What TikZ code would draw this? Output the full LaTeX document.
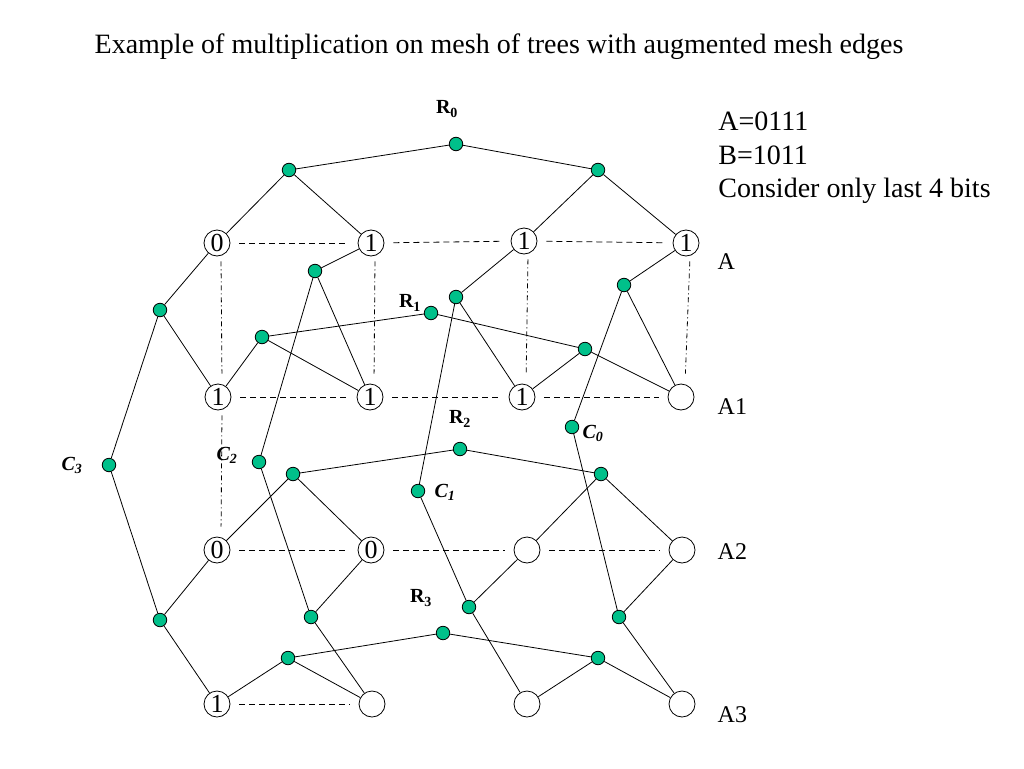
\documentclass[tikz,border=0pt]{standalone}
\usepackage{fontspec}
\setmainfont{Liberation Serif}
\definecolor{dotgreen}{RGB}{0,192,138}
\begin{document}
\begin{tikzpicture}[x=1pt,y=-1pt,line width=0.8pt,
      bit/.style={circle,draw,fill=white,minimum size=26pt,inner sep=0pt,font=\fontsize{26}{26}\selectfont},
      pe/.style={circle,draw,fill=dotgreen,minimum size=13.5pt,inner sep=0pt},
      meshline/.style={dash pattern=on 6pt off 4pt,shorten <=9pt,shorten >=9pt},
      colline/.style={dash pattern=on 5pt off 3pt on 1pt off 3pt,shorten <=5pt,shorten >=10pt},
      rlabel/.style={font=\fontsize{20}{20}\selectfont\bfseries},
      clabel/.style={font=\fontsize{20}{20}\selectfont\bfseries\itshape},
      mytext/.style={font=\fontsize{28}{33.5}\selectfont,align=left}]
    \useasboundingbox (0,0) rectangle (1024,768);
    \node[mytext] at (499,47) (title) {Example of multiplication on mesh of trees with augmented mesh edges};
    \node[mytext,anchor=west,inner sep=0pt] at (718,158) (info) {A=0111\\B=1011\\Consider only last 4 bits};
    % mesh of bits
    \node[bit] at (217,243) (m00) {0};
    \node[bit] at (371,243) (m01) {1};
    \node[bit] at (524,241) (m02) {1};
    \node[bit] at (686,243) (m03) {1};
    \node[bit] at (218,397) (m10) {1};
    \node[bit] at (370,397) (m11) {1};
    \node[bit] at (522,397) (m12) {1};
    \node[bit] at (681,397) (m13) {};
    \node[bit] at (217,550) (m20) {0};
    \node[bit] at (371,550) (m21) {0};
    \node[bit] at (527,550) (m22) {};
    \node[bit] at (682,550) (m23) {};
    \node[bit] at (217,704) (m30) {1};
    \node[bit] at (372,704) (m31) {};
    \node[bit] at (527,704) (m32) {};
    \node[bit] at (682,704) (m33) {};
    \node[mytext,font=\fontsize{24}{24}\selectfont,anchor=west] at (714,262) (rowA) {A};
    \node[mytext,font=\fontsize{24}{24}\selectfont,anchor=west] at (714,407) (rowA1) {A1};
    \node[mytext,font=\fontsize{24}{24}\selectfont,anchor=west] at (714,552) (rowA2) {A2};
    \node[mytext,font=\fontsize{24}{24}\selectfont,anchor=west] at (714,715) (rowA3) {A3};
    % augmented mesh edges
    \draw[meshline] (m00)--(m01); \draw[meshline] (m01)--(m02); \draw[meshline] (m02)--(m03);
    \draw[meshline] (m10)--(m11); \draw[meshline] (m11)--(m12); \draw[meshline] (m12)--(m13);
    \draw[meshline] (m20)--(m21); \draw[meshline] (m21)--(m22); \draw[meshline] (m22)--(m23);
    \draw[meshline] (m30)--(m31);
    \draw[colline] ([xshift=4pt]m00.south)--([xshift=4pt]m10.north);
    \draw[colline] ([xshift=4pt]m01.south)--([xshift=4pt]m11.north);
    \draw[colline] ([xshift=4pt]m02.south)--([xshift=4pt]m12.north);
    \draw[colline] ([xshift=4pt]m03.south)--([xshift=4pt]m13.north);
    \draw[colline] ([xshift=4pt]m10.south)--([xshift=4pt]m20.north);
    % row trees
    \node[pe] at (456,144) (R0) {};
    \node[pe] at (289,170) (R0l) {};
    \node[pe] at (598,170) (R0r) {};
    \node[pe] at (431,313) (R1) {};
    \node[pe] at (262,337) (R1l) {};
    \node[pe] at (585,349) (R1r) {};
    \node[pe] at (460,449) (R2) {};
    \node[pe] at (293,474) (R2l) {};
    \node[pe] at (601,474) (R2r) {};
    \node[pe] at (443,633) (R3) {};
    \node[pe] at (288,658) (R3l) {};
    \node[pe] at (598,658) (R3r) {};
    \foreach \r in {0,1,2,3} {
      \draw (R\r)--(R\r l) (R\r)--(R\r r);
      \draw (R\r l)--(m\r0) (R\r l)--(m\r1);
      \draw (R\r r)--(m\r2) (R\r r)--(m\r3);
    }
    \node[rlabel] at (447,109) {R\textsubscript{0}};
    \node[rlabel] at (410,303) {R\textsubscript{1}};
    \node[rlabel] at (460,419) {R\textsubscript{2}};
    \node[rlabel] at (421,598) {R\textsubscript{3}};
    % column trees
    \node[pe] at (109,465) (C3) {};
    \node[pe] at (160,310) (C3u) {};
    \node[pe] at (160,620) (C3d) {};
    \node[pe] at (259,462) (C2) {};
    \node[pe] at (315,271) (C2u) {};
    \node[pe] at (311,617) (C2d) {};
    \node[pe] at (418,491) (C1) {};
    \node[pe] at (456,297) (C1u) {};
    \node[pe] at (469,607) (C1d) {};
    \node[pe] at (572,427) (C0) {};
    \node[pe] at (624,285) (C0u) {};
    \node[pe] at (619,617) (C0d) {};
    \draw (C3)--(C3u) (C3)--(C3d) (C3u)--(m00) (C3u)--(m10) (C3d)--(m20) (C3d)--(m30);
    \draw (C2)--(C2u) (C2)--(C2d) (C2u)--(m01) (C2u)--(m11) (C2d)--(m21) (C2d)--(m31);
    \draw (C1)--(C1u) (C1)--(C1d) (C1u)--(m02) (C1u)--(m12) (C1d)--(m22) (C1d)--(m32);
    \draw (C0)--(C0u) (C0)--(C0d) (C0u)--(m03) (C0u)--(m13) (C0d)--(m23) (C0d)--(m33);
    \node[clabel] at (72,465) {C\textsubscript{3}};
    \node[clabel] at (227,455) {C\textsubscript{2}};
    \node[clabel] at (445,492) {C\textsubscript{1}};
    \node[clabel] at (593,433) {C\textsubscript{0}};
  \end{tikzpicture}
\end{document}
